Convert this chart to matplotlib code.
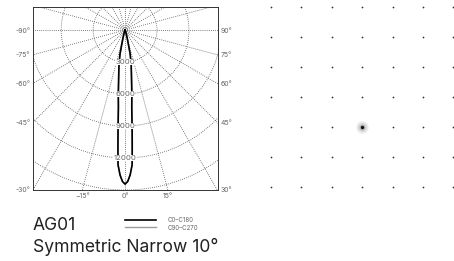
import numpy as np
import matplotlib
matplotlib.use("Agg")
import matplotlib.pyplot as plt
from matplotlib.patches import Circle

plt.rcParams['font.family'] = ['Inter', 'DejaVu Sans']

# luminous intensity (cd) vs angle from nadir (deg)
angles = [0, 1, 2, 3, 3.5, 4, 5, 6, 8, 10, 12, 14, 17, 20, 30]
c0_c180 = [14450, 14200, 13600, 12650, 11000, 9500, 7200, 6100, 4300, 3300, 2300, 1000, 400, 150, 0]
c90_c270 = [14450, 14200, 13600, 12650, 11000, 9500, 7200, 6100, 4300, 3300, 2300, 1000, 400, 150, 0]

ring_values = [3000, 6000, 9000, 12000, 15000, 18000]
side_angles = [90, 75, 60, 45, 30]
bottom_angles = [-15, 0, 15]

# illuminance grid (right panel)
grid_cols = [-3, -2, -1, 0, 1, 2, 3]
grid_rows = [4, 3, 2, 1, 0, -1, -2]
spot = (0, 0)

W, H = 454, 261
fig = plt.figure(figsize=(W / 100, H / 100), dpi=100)

# ---- polar intensity diagram in a square box
ax = fig.add_axes([33 / W, 1 - 190 / H, 184.7 / W, 183.3 / H])
xl, xr, yb, yt = -8650, 8700, -15000, 2190
ax.set_xlim(xl, xr)
ax.set_ylim(yb, yt)

gcol = '#555555'
for a in range(0, 360, 15):
    t = np.radians(a)
    ax.plot([0, 30000 * np.sin(t)], [0, -30000 * np.cos(t)], ls=(0, (1, 1.5)), lw=0.6, color=gcol, zorder=1)
for r in ring_values:
    ax.add_patch(Circle((0, 0), r, fill=False, ls=(0, (1, 1.5)), lw=0.6, ec=gcol, zorder=1))
for r in ring_values[:4]:
    ax.text(0, -r, str(r), fontsize=5.6, color='#666666', ha='center', va='center',
            bbox=dict(fc='white', ec='none', pad=0.2), zorder=5)

def beam(vals):
    th = np.radians(np.concatenate([-np.array(angles[::-1]), np.array(angles[1:])]))
    iv = np.concatenate([np.array(vals[::-1]), np.array(vals[1:])])
    return iv * np.sin(th), -iv * np.cos(th)

x2, y2 = beam(c90_c270)
ax.plot(x2, y2, color='#9a9a9a', lw=1.0, zorder=3)
x1, y1 = beam(c0_c180)
ax.plot(x1, y1, color='black', lw=1.2, zorder=4)

yt_pos = [xl / np.tan(np.radians(a)) if a != 90 else 0 for a in side_angles]
ax.set_yticks(yt_pos)
ax.set_yticklabels([f'-{a}°' for a in side_angles])
ax2y = ax.secondary_yaxis('right')
ax2y.set_yticks(yt_pos)
ax2y.set_yticklabels([f'{a}°' for a in side_angles])
ax.set_xticks([-yb * np.tan(np.radians(a)) for a in bottom_angles])
ax.set_xticklabels([f'{a}°'.replace('-', '−') if a else '0°' for a in bottom_angles])
for a_ in (ax, ax2y):
    a_.tick_params(length=0, pad=2, labelsize=5, labelcolor='#666666')
for s in ax.spines.values():
    s.set_linestyle((0, (1, 1)))
    s.set_linewidth(0.7)
    s.set_color('#333333')
for s in ax2y.spines.values():
    s.set_visible(False)

# ---- spot grid
bx = fig.add_axes([255.8 / W, 1 - 202.3 / H, 212.8 / W, 210 / H])
bx.set_xlim(-3.5, 3.5)
bx.set_ylim(-2.5, 4.5)
bx.axis('off')
gx, gy = np.meshgrid(grid_cols, grid_rows)
bx.scatter(gx.ravel(), gy.ravel(), s=1.6, c='#333333', linewidths=0, clip_on=False)
for s, c in [(80, '#ececec'), (45, '#dcdcdc'), (20, '#b8b8b8'), (6, '#111111')]:
    bx.scatter([spot[0]], [spot[1]], s=s, c=c, linewidths=0, zorder=3)

# ---- caption and legend
fig.text(33 / W, 1 - 229.5 / H, 'AG01', fontsize=12.6, color='#222222', va='baseline')
fig.text(33 / W, 1 - 252.3 / H, 'Symmetric Narrow 10°', fontsize=12.6, color='#222222', va='baseline')
h1, = ax.plot([], [], color='black', lw=1.2)
h2, = ax.plot([], [], color='#9a9a9a', lw=1.0)
fig.legend([h1, h2], ['C0–C180', 'C90–C270'], loc='upper left',
           bbox_to_anchor=(125 / W, 1 - 217 / H), frameon=False, fontsize=4.4,
           handlelength=5.0, handletextpad=2.0, labelspacing=0.25, borderpad=0, borderaxespad=0,
           labelcolor='#666666')

fig.savefig('out.png', dpi=100)
